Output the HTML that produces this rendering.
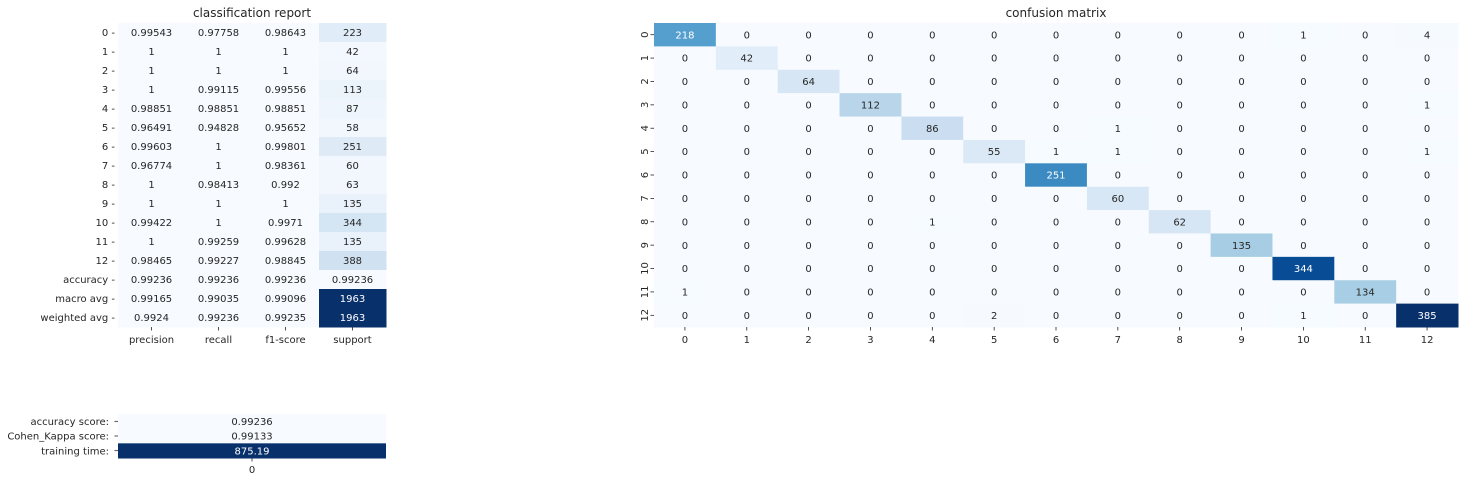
<!DOCTYPE html>
<html><head><meta charset="utf-8"><style>
html,body{margin:0;padding:0;background:#fff;}
svg{display:block;font-family:"DejaVu Sans","Liberation Sans",sans-serif;}
</style></head><body>
<svg id="chart" width="1464" height="482" viewBox="0 0 1464 482" xmlns="http://www.w3.org/2000/svg"></svg>
<script>
// ---- data ----
const reportRows = ["0","1","2","3","4","5","6","7","8","9","10","11","12","accuracy","macro avg","weighted avg"];
const reportCols = ["precision","recall","f1-score","support"];
const precision = [0.99543,1,1,1,0.98851,0.96491,0.99603,0.96774,1,1,0.99422,1,0.98465,0.99236,0.99165,0.9924];
const recall = [0.97758,1,1,0.99115,0.98851,0.94828,1,1,0.98413,1,1,0.99259,0.99227,0.99236,0.99035,0.99236];
const f1score = [0.98643,1,1,0.99556,0.98851,0.95652,0.99801,0.98361,0.992,1,0.9971,0.99628,0.98845,0.99236,0.99096,0.99235];
const support = [223,42,64,113,87,58,251,60,63,135,344,135,388,0.99236,1963,1963];
const cmLabels = ["0","1","2","3","4","5","6","7","8","9","10","11","12"];
const cm = [
[218,0,0,0,0,0,0,0,0,0,1,0,4],
[0,42,0,0,0,0,0,0,0,0,0,0,0],
[0,0,64,0,0,0,0,0,0,0,0,0,0],
[0,0,0,112,0,0,0,0,0,0,0,0,1],
[0,0,0,0,86,0,0,1,0,0,0,0,0],
[0,0,0,0,0,55,1,1,0,0,0,0,1],
[0,0,0,0,0,0,251,0,0,0,0,0,0],
[0,0,0,0,0,0,0,60,0,0,0,0,0],
[0,0,0,0,1,0,0,0,62,0,0,0,0],
[0,0,0,0,0,0,0,0,0,135,0,0,0],
[0,0,0,0,0,0,0,0,0,0,344,0,0],
[1,0,0,0,0,0,0,0,0,0,0,134,0],
[0,0,0,0,0,2,0,0,0,0,1,0,385]];
const scoreLabels = ["accuracy score:","Cohen_Kappa score:","training time:"];
const scoreValues = [0.99236,0.99133,875.19];
const scoreTexts = ["0.99236","0.99133","875.19"];

// ---- helpers ----
const NS="http://www.w3.org/2000/svg";
const svg=document.getElementById('chart');
const stops=["#f7fbff","#deebf7","#c6dbef","#9ecae1","#6baed6","#4292c6","#2171b5","#08519c","#08306b"];
function hex(h){return [1,3,5].map(i=>parseInt(h.substr(i,2),16));}
function blues(t){t=Math.max(0,Math.min(1,t));const p=t*8,i=Math.min(7,Math.floor(p)),f=p-i;const a=hex(stops[i]),b=hex(stops[i+1]);return "rgb("+a.map((v,k)=>Math.round(v+(b[k]-v)*f)).join(",")+")";}
function el(tag,attrs,parent){const e=document.createElementNS(NS,tag);for(const k in attrs)e.setAttribute(k,attrs[k]);(parent||svg).appendChild(e);return e;}
function txt(s,attrs,parent){const e=el('text',attrs,parent);e.textContent=s;return e;}
function fmt(v){return String(+v.toFixed(5));}

// ---- classification report ----
(function(){
  const x0=118,y0=23,w=268,h=304;
  const cw=w/reportCols.length, rh=h/reportRows.length;
  const cols=[precision,recall,f1score,support];
  let mn=Infinity,mx=-Infinity;cols.forEach(c=>c.forEach(v=>{mn=Math.min(mn,v);mx=Math.max(mx,v);}));
  const g=el('g',{});
  
  
  const t=txt('classification report',{x:x0+w/2,y:17,'text-anchor':'middle','font-size':12,fill:'#262626'},g);
  
  
  reportRows.forEach((r,i)=>{
    cols.forEach((c,j)=>{
      const v=c[i],tt=(v-mn)/(mx-mn);
      const rc=el('rect',{x:x0+j*cw,y:y0+i*rh,width:cw+0.5,height:rh+0.5,fill:blues(tt)},g);
      
      
      const ct=txt(fmt(v),{x:x0+j*cw+cw/2,y:y0+i*rh+rh/2+3.6,'text-anchor':'middle','font-size':10,fill:tt>0.5?'#fff':'#262626'},g);
      
      
    });
    const yl=txt(r+' -',{x:x0-3,y:y0+i*rh+rh/2+3.6,'text-anchor':'end','font-size':10,fill:'#262626'},g);
    
    
  });
  reportCols.forEach((c,j)=>{
    const cx=x0+j*cw+cw/2;
    el('line',{x1:cx,x2:cx,y1:y0+h,y2:y0+h+3.5,stroke:'#262626','stroke-width':0.8},g);
    const xl=txt(c,{x:cx,y:y0+h+16,'text-anchor':'middle','font-size':10,fill:'#262626'},g);
    
    
  });
})();

// ---- confusion matrix ----
(function(){
  const x0=654,y0=23,w=804,h=304,n=cmLabels.length;
  const cw=w/n,rh=h/n;
  let mx=0;cm.forEach(r=>r.forEach(v=>mx=Math.max(mx,v)));
  const g=el('g',{});
  
  
  const t=txt('confusion matrix',{x:x0+w/2,y:17,'text-anchor':'middle','font-size':12,fill:'#262626'},g);
  
  
  cm.forEach((row,i)=>{
    row.forEach((v,j)=>{
      const tt=v/mx;
      const rc=el('rect',{x:x0+j*cw,y:y0+i*rh,width:cw+0.5,height:rh+0.5,fill:blues(tt)},g);
      
      
      const ct=txt(String(v),{x:x0+j*cw+cw/2,y:y0+i*rh+rh/2+3.6,'text-anchor':'middle','font-size':10,fill:tt>0.5?'#fff':'#262626'},g);
      
      
    });
    const cy=y0+i*rh+rh/2;
    el('line',{x1:x0-3.5,x2:x0,y1:cy,y2:cy,stroke:'#262626','stroke-width':0.8},g);
    const yl=txt(cmLabels[i],{x:0,y:0,'text-anchor':'middle','font-size':10,fill:'#262626',transform:'translate('+(x0-6)+','+cy+') rotate(-90)'},g);
    
    
  });
  cmLabels.forEach((c,j)=>{
    const cx=x0+j*cw+cw/2;
    el('line',{x1:cx,x2:cx,y1:y0+h,y2:y0+h+3.5,stroke:'#262626','stroke-width':0.8},g);
    const xl=txt(c,{x:cx,y:y0+h+16,'text-anchor':'middle','font-size':10,fill:'#262626'},g);
    
    
  });
})();

// ---- scores table ----
(function(){
  const x0=118,y0=414,w=268,h=44,n=scoreValues.length,rh=h/n;
  const mn=Math.min(...scoreValues),mx=Math.max(...scoreValues);
  const g=el('g',{});
  
  
  scoreValues.forEach((v,i)=>{
    const tt=(v-mn)/(mx-mn);
    const rc=el('rect',{x:x0,y:y0+i*rh,width:w,height:rh+0.5,fill:blues(tt)},g);
    
    
    const ct=txt(scoreTexts[i],{x:x0+w/2,y:y0+i*rh+rh/2+3.6,'text-anchor':'middle','font-size':10,fill:tt>0.5?'#fff':'#262626'},g);
    
    
    const cy=y0+i*rh+rh/2;
    el('line',{x1:x0-3.5,x2:x0,y1:cy,y2:cy,stroke:'#262626','stroke-width':0.8},g);
    const yl=txt(scoreLabels[i],{x:x0-9,y:cy+3.6,'text-anchor':'end','font-size':10,fill:'#262626'},g);
    
    
  });
  const cx=x0+w/2;
  el('line',{x1:cx,x2:cx,y1:y0+h,y2:y0+h+3.5,stroke:'#262626','stroke-width':0.8},g);
  const xl=txt('0',{x:cx,y:y0+h+15,'text-anchor':'middle','font-size':10,fill:'#262626'},g);
  
  
})();
</script>
</body></html>
